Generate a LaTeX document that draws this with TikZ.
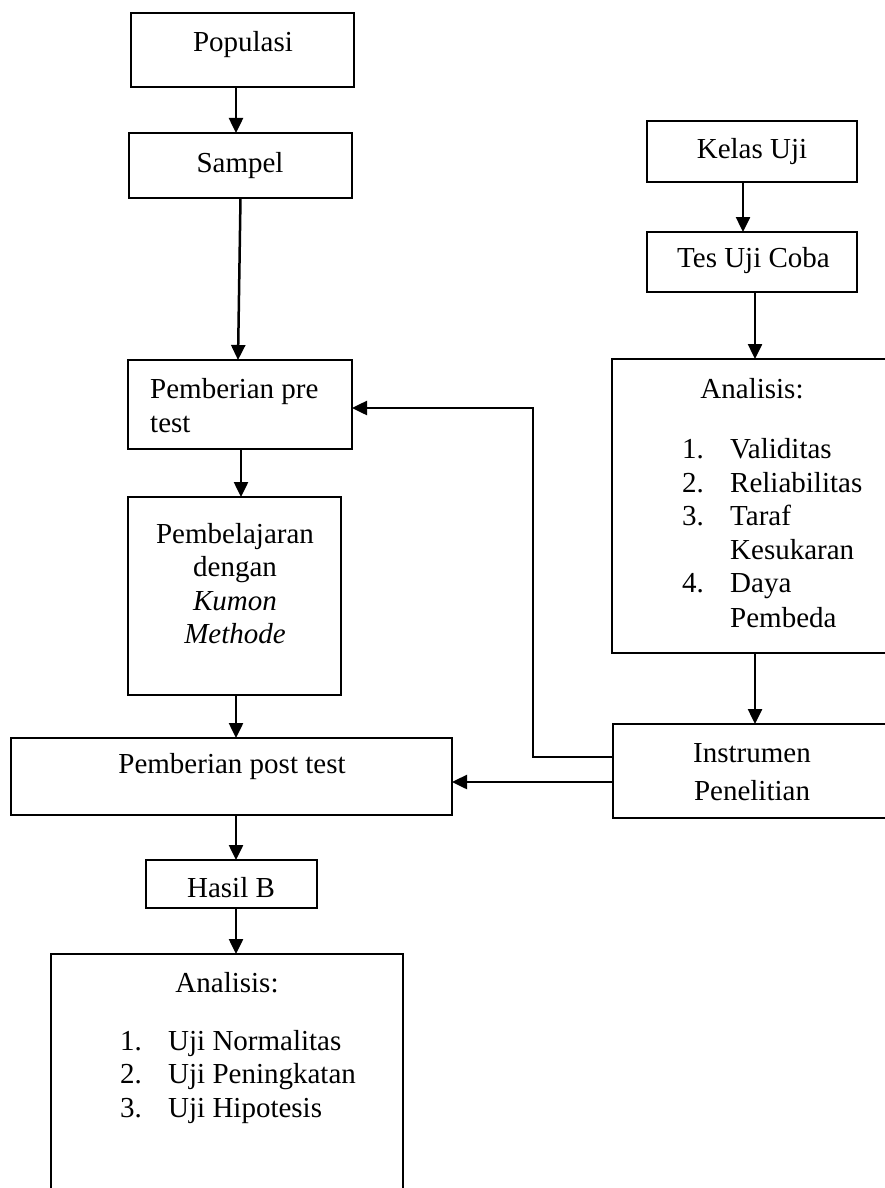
\documentclass[tikz,border=0pt]{standalone}
\usepackage{fontspec}
\setmainfont{Liberation Serif}
\usetikzlibrary{arrows.meta,calc}
\tikzset{
  box/.style={draw, line width=2.6pt, inner sep=0pt, outer sep=0pt},
  arr/.style={line width=2.5pt, -{Triangle[length=15pt,width=14pt]}},
  lbl/.style={inner sep=0pt, anchor=base, font=\fontsize{29}{33.5}\selectfont},
  lbll/.style={lbl, anchor=base west},
}
\begin{document}
\begin{tikzpicture}[x=1pt,y=-1pt]
\useasboundingbox (0,0) rectangle (885,1188);
\begin{scope}
\clip (0,0) rectangle (885,1188);
% boxes
\node[box, minimum width=223pt, minimum height=74pt] (pop) at (242.5,50) {};
\node[box, minimum width=223pt, minimum height=65pt] (samp) at (240.5,165.5) {};
\node[box, minimum width=224pt, minimum height=89pt] (pre) at (240,404.5) {};
\node[box, minimum width=213pt, minimum height=198pt] (learn) at (234.5,596) {};
\node[box, minimum width=441pt, minimum height=77pt] (post) at (231.5,776.5) {};
\node[box, minimum width=171pt, minimum height=48pt] (hasil) at (231.5,884) {};
\node[box, minimum width=352pt, minimum height=256pt] (anab) at (227,1082) {};
\node[box, minimum width=210pt, minimum height=61pt] (kelas) at (752,151.5) {};
\node[box, minimum width=210pt, minimum height=60pt] (tes) at (752,262) {};
\node[box, minimum width=288pt, minimum height=294pt] (anar) at (756,506) {};
\node[box, minimum width=287pt, minimum height=94pt] (inst) at (756.5,771) {};
% texts
\node[lbl] (tpop) at (243,52) {Populasi};
\node[lbl] (tsamp) at (240,172) {Sampel};
\node[lbll] (tpre1) at (150,398) {Pemberian pre};
\node[lbll] (tpre2) at (150,432) {test};
\node[lbl] (tl1) at (235,543) {Pembelajaran};
\node[lbl] (tl2) at (235,576.5) {dengan};
\node[lbl] (tl3) at (235,610) {\itshape Kumon};
\node[lbl] (tl4) at (235,643.5) {\itshape Methode};
\node[lbl] (tpost) at (232,773) {Pemberian post test};
\node[lbl] (thasil) at (231,897) {Hasil B};
\node[lbl] (tab) at (227,992) {Analisis:};
\node[lbll] (tab1n) at (120,1050) {1.};
\node[lbll] (tab1) at (168,1050) {Uji Normalitas};
\node[lbll] (tab2n) at (120,1083.5) {2.};
\node[lbll] (tab2) at (168,1083.5) {Uji Peningkatan};
\node[lbll] (tab3n) at (120,1117) {3.};
\node[lbll] (tab3) at (168,1117) {Uji Hipotesis};
\node[lbl] (tkelas) at (752,158) {Kelas Uji};
\node[lbl] (ttes) at (753.5,267) {Tes Uji Coba};
\node[lbl] (tar) at (752,398) {Analisis:};
\node[lbll] (tar1n) at (682,458) {1.};
\node[lbll] (tar1) at (730,458) {Validitas};
\node[lbll] (tar2n) at (682,492) {2.};
\node[lbll] (tar2) at (730,492) {Reliabilitas};
\node[lbll] (tar3n) at (682,525.5) {3.};
\node[lbll] (tar3) at (730,525.5) {Taraf};
\node[lbll] (tar3b) at (730,559) {Kesukaran};
\node[lbll] (tar4n) at (682,592.5) {4.};
\node[lbll] (tar4) at (730,592.5) {Daya};
\node[lbll] (tar4b) at (730,627) {Pembeda};
\node[lbl] (tinst1) at (752,762) {Instrumen};
\node[lbl] (tinst2) at (752,800) {Penelitian};
% connectors
\draw[arr] ([xshift=-6.5pt]pop.south) -- ([xshift=-6.5pt]pop.south |- samp.north);
\draw[arr] (samp.south) -- ([xshift=-2pt]pre.north);
\draw[arr] ([xshift=1pt]pre.south) -- ([xshift=1pt]pre.south |- learn.north);
\draw[arr] ([xshift=1.5pt]learn.south) -- ([xshift=1.5pt]learn.south |- post.north);
\draw[arr] ([xshift=4.5pt]post.south) -- ([xshift=4.5pt]post.south |- hasil.north);
\draw[arr] ([xshift=4.5pt]hasil.south) -- ([xshift=4.5pt]hasil.south |- anab.north);
\draw[arr] ([xshift=-9pt]kelas.south) -- ([xshift=-9pt]kelas.south |- tes.north);
\draw[arr] ([xshift=3pt]tes.south) -- ([xshift=3pt]tes.south |- anar.north);
\draw[arr] ([xshift=-1pt]anar.south) -- ([xshift=-1pt]anar.south |- inst.north);
\draw[arr] ([yshift=14pt]inst.west) -- ++(-80,0) |- ([yshift=-3.5pt]pre.east);
\draw[arr] ([yshift=-11pt]inst.west) -- ([yshift=-11pt]inst.west -| post.east);
\end{scope}
\end{tikzpicture}
\end{document}
